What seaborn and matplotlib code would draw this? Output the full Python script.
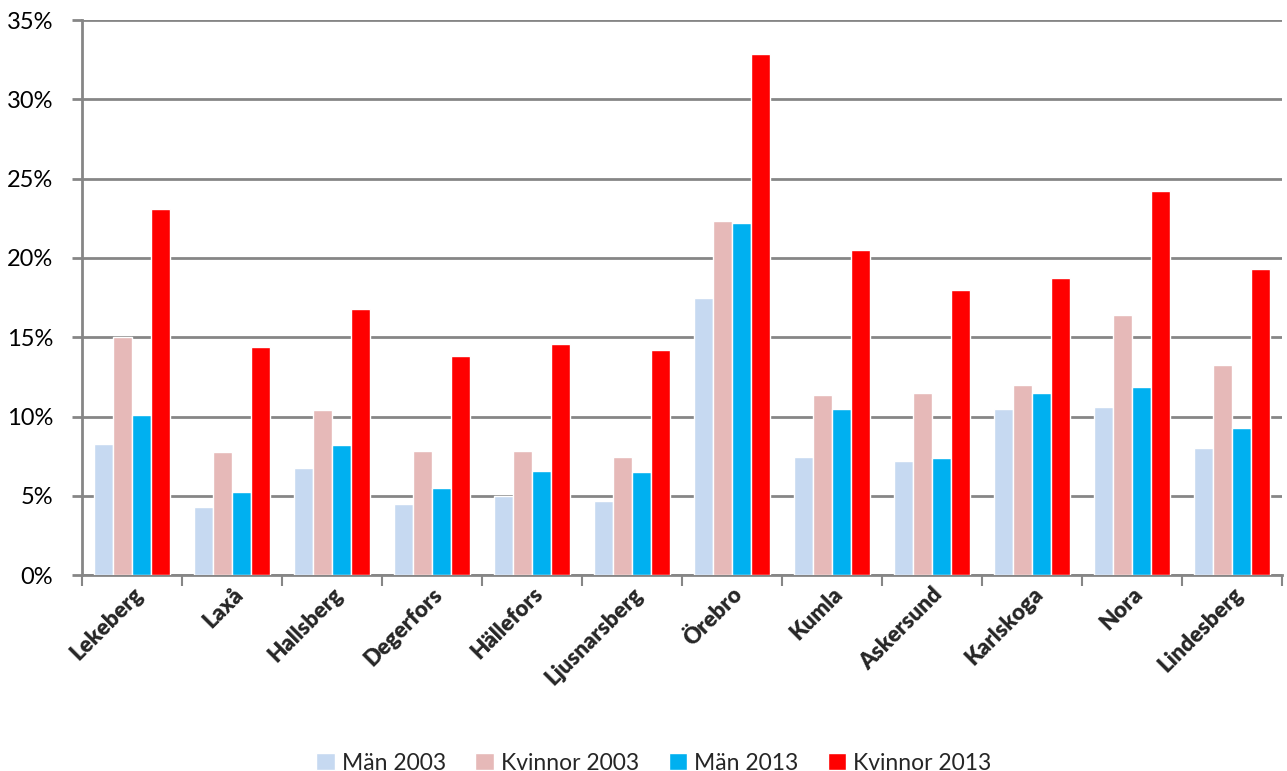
import pandas as pd
import matplotlib.pyplot as plt
import seaborn as sns
from matplotlib.ticker import FixedLocator, PercentFormatter

kommuner = ["Lekeberg", "Laxå", "Hallsberg", "Degerfors", "Hällefors", "Ljusnarsberg",
            "Örebro", "Kumla", "Askersund", "Karlskoga", "Nora", "Lindesberg"]
man_2003 = [8.3, 4.3, 6.75, 4.5, 5.0, 4.7, 17.5, 7.45, 7.2, 10.5, 10.6, 8.0]
kvinnor_2003 = [15.0, 7.75, 10.4, 7.8, 7.8, 7.45, 22.3, 11.35, 11.5, 12.0, 16.4, 13.25]
man_2013 = [10.1, 5.25, 8.2, 5.5, 6.55, 6.5, 22.2, 10.5, 7.4, 11.5, 11.85, 9.3]
kvinnor_2013 = [23.1, 14.4, 16.8, 13.8, 14.55, 14.2, 32.85, 20.5, 18.0, 18.75, 24.2, 19.3]

serier = ["Män 2003", "Kvinnor 2003", "Män 2013", "Kvinnor 2013"]
farger = ["#C6D9F1", "#E6B9B8", "#00B0F0", "#FF0000"]

rows = []
for namn, vals in zip(serier, [man_2003, kvinnor_2003, man_2013, kvinnor_2013]):
    for k, v in zip(kommuner, vals):
        rows.append({"Kommun": k, "Serie": namn, "Andel": v})
df = pd.DataFrame(rows)

sns.set_style("white")
plt.rcParams['font.family'] = ['Lato', 'DejaVu Sans']

fig, ax = plt.subplots(figsize=(12.87, 7.71), dpi=100)
fig.subplots_adjust(left=0.064, right=0.996, top=0.974, bottom=0.254)

sns.barplot(data=df, x="Kommun", y="Andel", hue="Serie", order=kommuner,
            hue_order=serier, palette=farger, width=0.76, gap=0,
            saturation=1, errorbar=None, ax=ax, zorder=3)

ax.set_ylim(0, 35)
ax.set_xlim(-0.5, len(kommuner) - 0.5)
ax.set_yticks(range(0, 36, 5))
ax.yaxis.set_major_formatter(PercentFormatter(decimals=0))
ax.grid(axis="y", color="#868686", linewidth=2, zorder=0)
ax.set_axisbelow(True)

for s in ["top", "right"]:
    ax.spines[s].set_visible(False)
for s in ["left", "bottom"]:
    ax.spines[s].set_color("#868686")
    ax.spines[s].set_linewidth(2)

ax.tick_params(axis="y", length=7, width=2, color="#868686", labelsize=17,
               labelcolor="black", pad=14, left=True)
ax.tick_params(axis="x", which="major", length=0, labelsize=16, pad=6)
ax.xaxis.set_minor_locator(FixedLocator([i - 0.5 for i in range(len(kommuner) + 1)]))
ax.tick_params(axis="x", which="minor", length=8, width=1.5, color="#868686", bottom=True)

for lbl in ax.get_xticklabels():
    lbl.set_rotation(45)
    lbl.set_ha("right")
    lbl.set_rotation_mode("anchor")
    lbl.set_fontweight("heavy")

ax.set_xlabel("")
ax.set_ylabel("")

ax.legend_.remove()
handles, labels = ax.get_legend_handles_labels()
fig.legend(handles, labels, loc="lower center", bbox_to_anchor=(0.508, -0.03), ncol=4,
           frameon=False, fontsize=16.5, handlelength=0.8, handleheight=0.8,
           handletextpad=0.3, columnspacing=1.3)

plt.savefig("out.png", dpi=100)
